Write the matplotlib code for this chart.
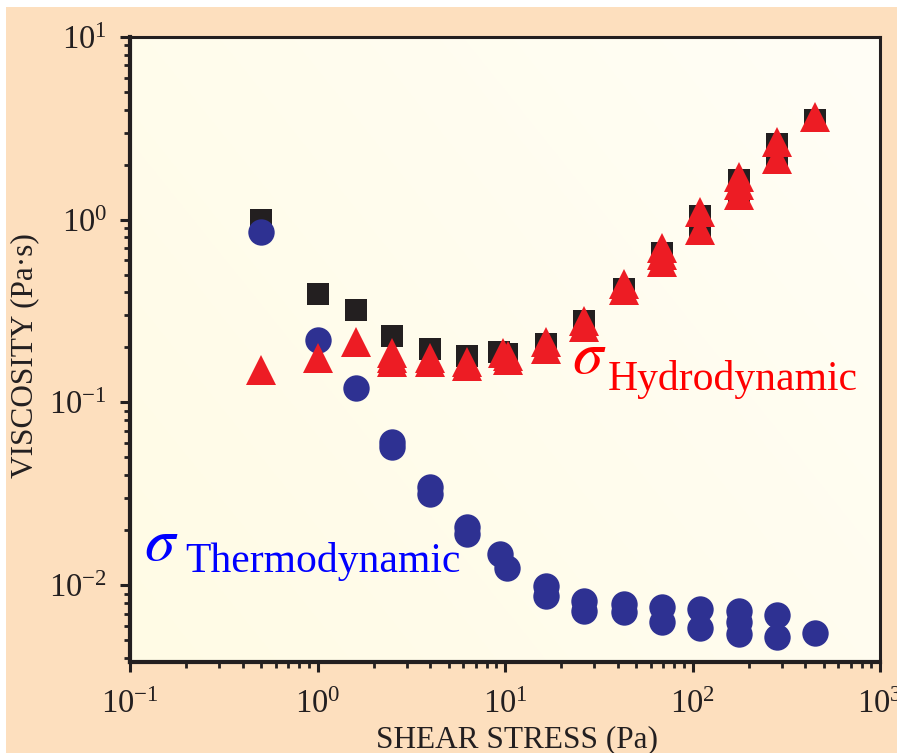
import numpy as np
import matplotlib
matplotlib.use("Agg")
import matplotlib.pyplot as plt
from matplotlib.patches import Rectangle
from matplotlib.ticker import LogLocator, NullFormatter, FuncFormatter

# ---------------- data ----------------
sq_x = [0.5, 1.0, 1.6, 2.5, 4.0, 6.3, 9.3, 10.2, 16.5, 26.5, 43, 69, 69, 109, 109, 109,
        176, 176, 176, 281, 281, 449]
sq_y = [1.0, 0.39, 0.32, 0.23, 0.195, 0.18, 0.19, 0.185, 0.21, 0.28, 0.42, 0.66, 0.60,
        1.05, 0.95, 0.87, 1.65, 1.5, 1.38, 2.6, 2.1, 3.5]

ci_x = [0.5, 1.0, 1.6, 2.5, 2.5, 4.0, 4.0, 6.3, 6.3, 9.4, 10.3, 16.6, 16.6, 26.5, 26.5,
        43, 43, 69, 69, 109, 109, 176, 176, 176, 281, 281, 449]
ci_y = [0.86, 0.22, 0.12, 0.061, 0.057, 0.0344, 0.0314, 0.0207, 0.019, 0.0148, 0.0125,
        0.0099, 0.0087, 0.0082, 0.0072, 0.0079, 0.0071, 0.0076, 0.0063, 0.0074, 0.0058,
        0.0072, 0.0063, 0.0054, 0.0069, 0.0052, 0.0055]

tr_x = [0.5, 1.0, 1.6, 2.5, 2.5, 2.5, 4.0, 4.0, 6.3, 6.3, 9.7, 10.4, 10.4, 16.5, 16.5,
        26.5, 26.5, 43, 43, 69, 69, 69, 109, 109, 176, 176, 176, 281, 281, 449]
tr_y = [0.151, 0.176, 0.213, 0.187, 0.176, 0.167, 0.176, 0.166, 0.167, 0.158, 0.187,
        0.18, 0.17, 0.213, 0.195, 0.28, 0.26, 0.446, 0.41, 0.70, 0.64, 0.59, 1.1, 0.88,
        1.72, 1.55, 1.37, 2.67, 2.15, 3.65]

x_label = "SHEAR STRESS (Pa)"
y_label = "VISCOSITY (Pa\u00b7s)"
thermo_label = "Thermodynamic"
hydro_label = "Hydrodynamic"

# ---------------- style ----------------
W, H = 897, 753
plt.rcParams['font.family'] = ['Liberation Serif', 'DejaVu Serif']
plt.rcParams['mathtext.fontset'] = 'custom'
plt.rcParams['mathtext.rm'] = 'Liberation Serif'
plt.rcParams['mathtext.it'] = 'Liberation Serif:italic'

peach = '#FDDFBE'
ink = '#231F20'
fig = plt.figure(figsize=(W / 100, H / 100), dpi=100, facecolor=peach)

# white strips on top and left
fig.patches.append(Rectangle((0, 1 - 7 / H), 1, 7 / H, transform=fig.transFigure,
                             facecolor='white', edgecolor='none', zorder=-5))
fig.patches.append(Rectangle((0, 0), 6 / W, 1, transform=fig.transFigure,
                             facecolor='white', edgecolor='none', zorder=-5))

left, right, top, bottom = 130, 880, 37, 662
pos = [left / W, 1 - bottom / H, (right - left) / W, (bottom - top) / H]

# gradient background panel
bg = fig.add_axes(pos, zorder=0)
g = np.linspace(0, 1, 256)
X, Y = np.meshgrid(g, g)
t = np.clip(0.6 * X + 0.4 * (1 - Y), 0, 1)
c0 = np.array([255, 251, 229]) / 255.0
c1 = np.array([255, 254, 246]) / 255.0
img = c0[None, None, :] * (1 - t[..., None]) + c1[None, None, :] * t[..., None]
bg.imshow(img, extent=[0, 1, 0, 1], aspect='auto', origin='upper')
bg.set_axis_off()

ax = fig.add_axes(pos, zorder=1)
ax.set_facecolor('none')
ax.set_xscale('log')
ax.set_yscale('log')
ax.set_xlim(0.1, 1000)
ax.set_ylim(0.0038, 10)

ax.plot(sq_x, sq_y, linestyle='none', marker='s', markersize=16.5, color=ink,
        markeredgewidth=0, zorder=3)
ax.plot(ci_x, ci_y, linestyle='none', marker='o', markersize=19, color='#2E3192',
        markeredgewidth=0, zorder=4)
ax.plot(tr_x, tr_y, linestyle='none', marker='^', markersize=21, color='#ED1C24',
        markeredgewidth=0, zorder=5)

# spines
for s in ['left', 'bottom']:
    ax.spines[s].set_linewidth(3.0)
    ax.spines[s].set_color(ink)
for s in ['top', 'right']:
    ax.spines[s].set_linewidth(2.2)
    ax.spines[s].set_color(ink)

ax.xaxis.set_major_locator(LogLocator(base=10, numticks=10))
ax.yaxis.set_major_locator(LogLocator(base=10, numticks=10))
ax.xaxis.set_minor_locator(LogLocator(base=10, subs=np.arange(2, 10), numticks=20))
ax.yaxis.set_minor_locator(LogLocator(base=10, subs=np.arange(2, 10), numticks=20))
ax.xaxis.set_minor_formatter(NullFormatter())
ax.yaxis.set_minor_formatter(NullFormatter())

def fmt(v, p):
    e = int(np.round(np.log10(v)))
    return r'$\mathregular{10^{%d}}$' % e

ax.xaxis.set_major_formatter(FuncFormatter(fmt))
ax.yaxis.set_major_formatter(FuncFormatter(fmt))

ax.tick_params(which='major', direction='out', length=7.5, width=2.2, color=ink,
               labelsize=23.5, labelcolor='#231F20', top=False, right=False)
ax.tick_params(axis='x', which='major', pad=12)
ax.tick_params(axis='y', which='major', pad=9)
ax.tick_params(which='minor', direction='out', length=4.5, width=2.0, color=ink,
               top=False, right=False)

ax.set_xlabel(x_label, fontsize=22.5, color='#231F20')
ax.set_ylabel(y_label, fontsize=22.5, color='#231F20')
ax.xaxis.set_label_coords(0.516, -0.101)
ax.yaxis.set_label_coords(-0.14, 0.49)
ax.yaxis.label.set_va('center')

# annotations
ax.text(0.018, 0.163, r'$\sigma$', transform=ax.transAxes, fontsize=44,
        math_fontfamily='stix', color='#0000FF', ha='left', va='baseline')
ax.text(0.0733, 0.144, thermo_label, transform=ax.transAxes, fontsize=30,
        color='#0000FF', ha='left', va='baseline')
ax.text(0.589, 0.462, r'$\sigma$', transform=ax.transAxes, fontsize=44,
        math_fontfamily='stix', color='#FF0000', ha='left', va='baseline')
ax.text(0.637, 0.435, hydro_label, transform=ax.transAxes, fontsize=30,
        color='#FF0000', ha='left', va='baseline')

fig.savefig('out.png', dpi=100, facecolor=peach)
